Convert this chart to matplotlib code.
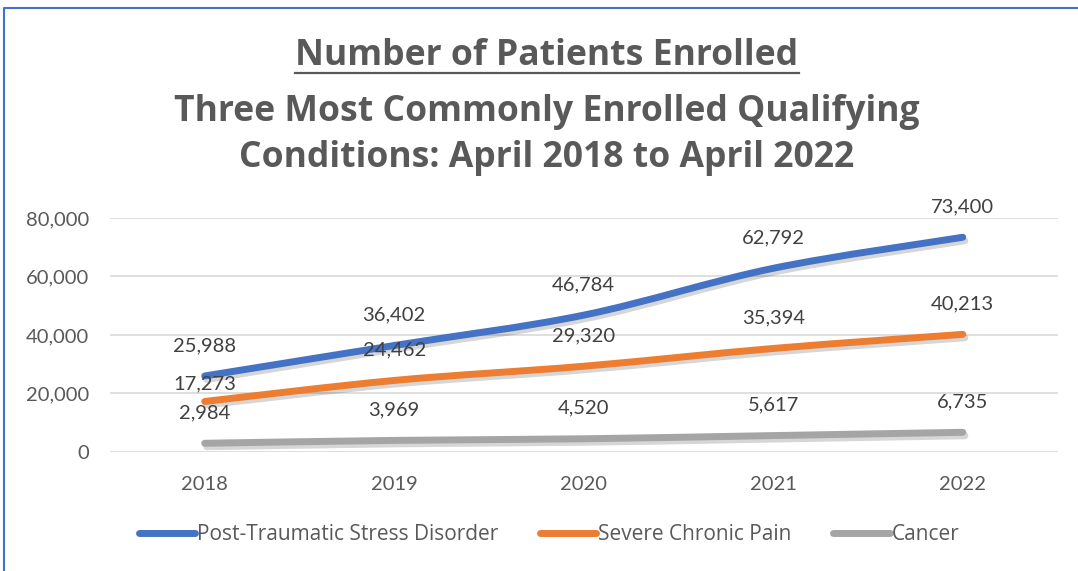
import matplotlib
matplotlib.use("Agg")
import matplotlib.pyplot as plt
import matplotlib.patheffects as pe
from matplotlib.path import Path
from matplotlib.patches import PathPatch
from matplotlib.lines import Line2D

years = ["2018", "2019", "2020", "2021", "2022"]
ptsd = [25988, 36402, 46784, 62792, 73400]
pain = [17273, 24462, 29320, 35394, 40213]
cancer = [2984, 3969, 4520, 5617, 6735]
series_names = ["Post-Traumatic Stress Disorder", "Severe Chronic Pain", "Cancer"]
colors = ["#4472C4", "#ED7D31", "#A5A5A5"]

plt.rcParams["font.family"] = ["Lato", "DejaVu Sans"]
TEXT = "#595959"


def smooth_path(xs, ys):
    # Excel style smoothed line: cubic bezier through every point
    pts = list(zip(xs, ys))
    n = len(pts)
    verts = [pts[0]]
    codes = [Path.MOVETO]
    for i in range(n - 1):
        p0 = pts[max(i - 1, 0)]
        p1 = pts[i]
        p2 = pts[i + 1]
        p3 = pts[min(i + 2, n - 1)]
        c1 = (p1[0] + (p2[0] - p0[0]) / 6, p1[1] + (p2[1] - p0[1]) / 6)
        c2 = (p2[0] - (p3[0] - p1[0]) / 6, p2[1] - (p3[1] - p1[1]) / 6)
        verts += [c1, c2, p2]
        codes += [Path.CURVE4] * 3
    return Path(verts, codes)


fig = plt.figure(figsize=(10.78, 5.71), dpi=100)
ax = fig.add_axes([0.102, 0.2084, 0.879, 0.4099])

x = list(range(len(years)))
shadow = [pe.SimpleLineShadow(offset=(1.5, -2.5), shadow_color="black", alpha=0.16),
          pe.Normal()]

for vals, col in zip([ptsd, pain, cancer], colors):
    patch = PathPatch(smooth_path(x, vals), facecolor="none", edgecolor=col,
                      lw=5, capstyle="round", joinstyle="round", zorder=3)
    patch.set_path_effects(shadow)
    ax.add_patch(patch)

for vals in [ptsd, pain, cancer]:
    for i, v in enumerate(vals):
        off = 22
        if vals is pain and i == 0:
            off = 13
        ax.annotate(f"{v:,}", (i, v), xytext=(0, off), textcoords="offset points",
                    ha="center", va="center", fontsize=14.5, color="#404040", zorder=4)

ax.set_xlim(-0.5, len(years) - 0.5)
ax.set_ylim(0, 80000)
ax.set_yticks(range(0, 80001, 20000))
ax.set_yticklabels([f"{t:,}" for t in range(0, 80001, 20000)])
ax.set_xticks(x)
ax.set_xticklabels(years)
ax.tick_params(axis="y", length=0, pad=15, labelsize=14.5, labelcolor=TEXT)
ax.tick_params(axis="x", length=0, pad=17, labelsize=14.5, labelcolor=TEXT)
ax.grid(axis="y", color="#D9D9D9", lw=1.2)
ax.set_axisbelow(True)
for s in ax.spines.values():
    s.set_visible(False)

handles = [Line2D([], [], color=c, lw=5, solid_capstyle="round") for c in colors]
ax.legend(handles, series_names, loc="center", bbox_to_anchor=(549 / 1078, 1 - 535 / 571),
          bbox_transform=fig.transFigure, ncol=3, frameon=False,
          prop={"family": ["Open Sans", "DejaVu Sans"], "size": 15},
          labelcolor=TEXT, handlelength=2.7, handletextpad=0.1, columnspacing=2.0)

cx = 547 / 1078
tfont = {"family": ["Open Sans", "DejaVu Sans"], "size": 25.6, "weight": "bold"}
t1 = fig.text(cx, 1 - 65 / 571, "Number of Patients Enrolled", ha="center", va="baseline",
              color=TEXT, fontdict=tfont)
fig.text(cx, 1 - 121 / 571, "Three Most Commonly Enrolled Qualifying", ha="center",
         va="baseline", color=TEXT, fontdict=tfont)
fig.text(cx, 1 - 167 / 571, "Conditions: April 2018 to April 2022", ha="center",
         va="baseline", color=TEXT, fontdict=tfont)

# underline the first title line
fig.canvas.draw()
bb = t1.get_window_extent().transformed(fig.transFigure.inverted())
fig.add_artist(Line2D([bb.x0, bb.x1], [1 - 73 / 571] * 2, color=TEXT, lw=1.6,
                      transform=fig.transFigure))

# chart border (top and left edges visible)
fig.add_artist(Line2D([4 / 1078, 4 / 1078, 1], [0, 1 - 8 / 571, 1 - 8 / 571],
                      color="#4472C4", lw=1.5, transform=fig.transFigure))

fig.savefig("out.png", dpi=100)
